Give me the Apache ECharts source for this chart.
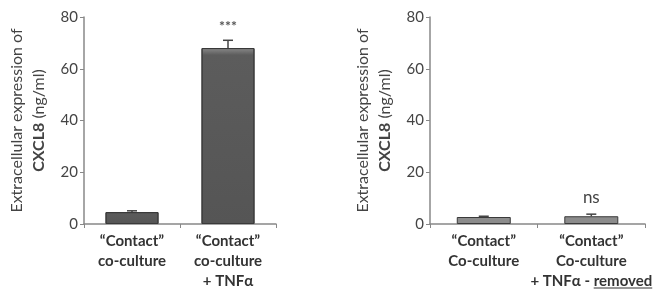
<!DOCTYPE html>
<html>
<head>
<meta charset="utf-8">
<script src="https://cdn.jsdelivr.net/npm/echarts@6/dist/echarts.min.js"></script>
<style>
  html, body { margin: 0; padding: 0; background: #fff; }
  #main { width: 654px; height: 292px; }
</style>
</head>
<body>
<div id="main"></div>
<script>
// left panel
const leftCats = ["\u201cContact\u201d\nco-culture", "\u201cContact\u201d\nco-culture\n+ TNF\u03b1"];
const leftVals = [4.6, 68];
const leftErr = [0.5, 3];
const leftSig = ["", "***"];
// right panel
const rightCats = ["\u201cContact\u201d\nCo-culture", "\u201cContact\u201d\nCo-culture\n+ TNF\u03b1 - removed"];
const rightVals = [2.7, 3.0];
const rightErr = [0.3, 0.8];
const rightSig = ["", "ns"];
const yTicks = [0, 20, 40, 60, 80];

var myChart = echarts.init(document.getElementById("main"));
const font = "Lato, sans-serif";

function yAxisCfg(idx) {
  return {
    type: "value",
    gridIndex: idx,
    min: yTicks[0],
    max: yTicks[yTicks.length - 1],
    interval: 20,
    name: "Extracellular expression of\n{b|CXCL8} (ng/ml)",
    nameLocation: "middle",
    nameRotate: 90,
    nameGap: 34,
    nameTextStyle: {
      color: "#444",
      fontSize: 16,
      fontFamily: font,
      lineHeight: 22,
      rich: { b: { fontWeight: "bold", fontSize: 16, fontFamily: font, color: "#444" } }
    },
    axisLine: { show: true, lineStyle: { color: "#888", width: 1.5 } },
    axisTick: { show: true, length: 4, lineStyle: { color: "#888" } },
    axisLabel: { color: "#444", fontSize: 15, fontFamily: font, margin: 6 },
    splitLine: { show: false }
  };
}

function xAxisCfg(idx, cats) {
  return {
    type: "category",
    gridIndex: idx,
    data: cats,
    axisLine: { lineStyle: { color: "#888", width: 1.5 } },
    axisTick: { show: true, length: 4, lineStyle: { color: "#888" } },
    axisLabel: {
      color: "#333",
      fontSize: 15,
      fontWeight: "bold",
      fontFamily: font,
      lineHeight: 20,
      margin: 7,
      interval: 0,
      hideOverlap: false
    }
  };
}

function errSeries(idx, vals, errs, sig) {
  return {
    type: "custom",
    xAxisIndex: idx,
    yAxisIndex: idx,
    data: vals.map((v, i) => [i, v, v + errs[i]]),
    renderItem: function (params, api) {
      const base = api.coord([api.value(0), api.value(1)]);
      const top = api.coord([api.value(0), api.value(2)]);
      const w = 5;
      const lbl = sig[params.dataIndex];
      const children = [
        { type: "line", shape: { x1: base[0], y1: base[1], x2: top[0], y2: top[1] }, style: { stroke: "#444", lineWidth: 1.5 } },
        { type: "line", shape: { x1: top[0] - w, y1: top[1], x2: top[0] + w, y2: top[1] }, style: { stroke: "#444", lineWidth: 1.5 } }
      ];
      if (lbl) {
        const ns = lbl === "ns";
        children.push({
          type: "text",
          style: {
            text: lbl, x: top[0], y: top[1] - (ns ? 8 : 7),
            align: "center", verticalAlign: "bottom",
            fill: ns ? "#444" : "#555", fontSize: ns ? 17 : 14,
            fontWeight: ns ? "normal" : "bold", fontFamily: font
          }
        });
      }
      return { type: "group", children: children };
    },
    z: 3
  };
}

myChart.setOption({
  animation: false,
  grid: [
    { left: 84, top: 17, width: 192, height: 207 },
    { left: 430, top: 17, width: 220, height: 207 }
  ],
  xAxis: [xAxisCfg(0, leftCats), xAxisCfg(1, rightCats)],
  yAxis: [yAxisCfg(0), yAxisCfg(1)],
  series: [
    {
      type: "bar",
      xAxisIndex: 0,
      yAxisIndex: 0,
      data: leftVals,
      barWidth: 53,
      itemStyle: {
        color: new echarts.graphic.LinearGradient(0, 0, 0, 1, [
          { offset: 0, color: "#8a8a8a" },
          { offset: 0.04, color: "#5c5c5c" },
          { offset: 1, color: "#555" }
        ]),
        borderColor: "#3a3a3a",
        borderWidth: 1
      }
    },
    errSeries(0, leftVals, leftErr, leftSig),
    {
      type: "bar",
      xAxisIndex: 1,
      yAxisIndex: 1,
      data: rightVals,
      barWidth: 54,
      itemStyle: { color: "#8c8c8c", borderColor: "#3a3a3a", borderWidth: 1 }
    },
    errSeries(1, rightVals, rightErr, rightSig)
  ]
});

// underline under "removed" in the last category label
(function () {
  const cv = document.createElement("canvas").getContext("2d");
  cv.font = "bold 15px " + font;
  const full = rightCats[1].split("\n")[2];
  const word = "removed";
  const fullW = cv.measureText(full).width;
  const wordW = cv.measureText(word).width;
  const pt = myChart.convertToPixel({ xAxisIndex: 1, yAxisIndex: 1 }, [1, 0]);
  const x2 = pt[0] + fullW / 2;
  const x1 = x2 - wordW;
  const y = pt[1] + 7 + 20 * 2 + 17;
  myChart.setOption({
    graphic: [{
      type: "line",
      shape: { x1: x1, y1: y, x2: x2, y2: y },
      style: { stroke: "#333", lineWidth: 1.2 }
    }]
  });
})();
</script>
</body>
</html>
